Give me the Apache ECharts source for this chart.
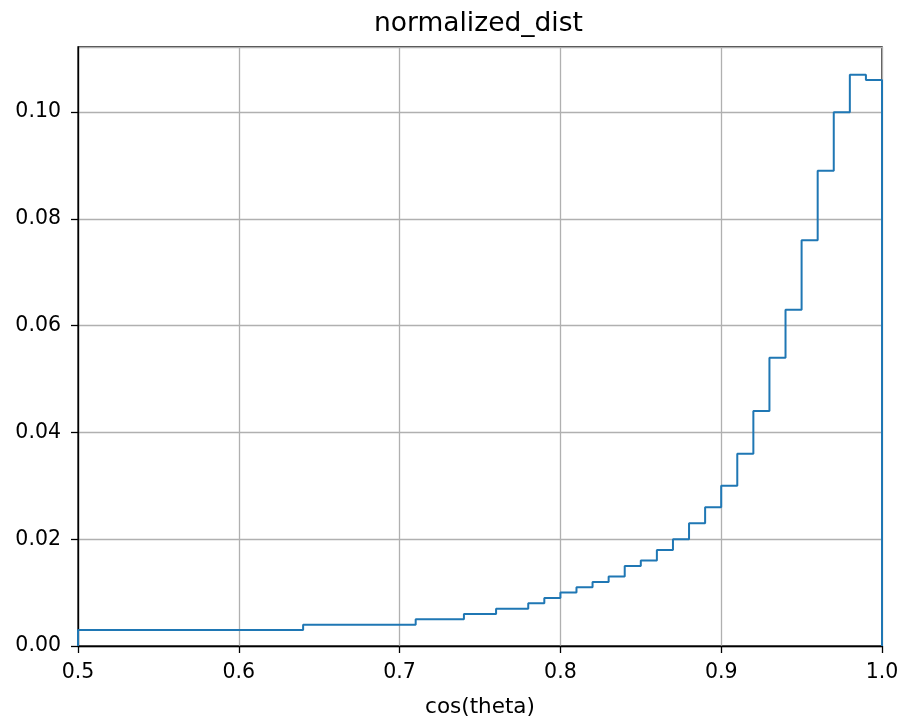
<!DOCTYPE html>
<html>
<head>
<meta charset="utf-8">
<script src="https://cdn.jsdelivr.net/npm/echarts@6/dist/echarts.min.js"></script>
<style>
  html, body { margin: 0; padding: 0; background: #ffffff; }
  #chart { width: 904px; height: 719px; }
</style>
</head>
<body>
<div id="chart"></div>
<script>
// Histogram bin edges for cos(theta) and the normalized weight per bin
const binEdges = [
  0.50, 0.51, 0.52, 0.53, 0.54, 0.55, 0.56, 0.57, 0.58, 0.59,
  0.60, 0.61, 0.62, 0.63, 0.64, 0.65, 0.66, 0.67, 0.68, 0.69,
  0.70, 0.71, 0.72, 0.73, 0.74, 0.75, 0.76, 0.77, 0.78, 0.79,
  0.80, 0.81, 0.82, 0.83, 0.84, 0.85, 0.86, 0.87, 0.88, 0.89,
  0.90, 0.91, 0.92, 0.93, 0.94, 0.95, 0.96, 0.97, 0.98, 0.99,
  1.00
];
const binValues = [
  0.003, 0.003, 0.003, 0.003, 0.003, 0.003, 0.003, 0.003, 0.003, 0.003,
  0.003, 0.003, 0.003, 0.003, 0.004, 0.004, 0.004, 0.004, 0.004, 0.004,
  0.004, 0.005, 0.005, 0.005, 0.006, 0.006, 0.007, 0.007, 0.008, 0.009,
  0.010, 0.011, 0.012, 0.013, 0.015, 0.016, 0.018, 0.020, 0.023, 0.026,
  0.030, 0.036, 0.044, 0.054, 0.063, 0.076, 0.089, 0.100, 0.107, 0.106
];
const xTicks = [0.5, 0.6, 0.7, 0.8, 0.9, 1.0];
const yTicks = [0.00, 0.02, 0.04, 0.06, 0.08, 0.10];

// Outline of a step histogram: rise at the first edge, drop at the last one
const stepPoints = [[binEdges[0], 0]];
for (let i = 0; i < binValues.length; i++) {
  stepPoints.push([binEdges[i], binValues[i]]);
}
const lastEdge = binEdges[binEdges.length - 1];
stepPoints.push([lastEdge, binValues[binValues.length - 1]]);
stepPoints.push([lastEdge, 0]);

const FONT = 'DejaVu Sans';
const chart = echarts.init(document.getElementById('chart'), null, { renderer: 'canvas' });

chart.setOption({
  animation: false,
  backgroundColor: '#ffffff',
  title: {
    text: 'normalized_dist',
    left: 374,
    top: 11,
    padding: 0,
    textStyle: { fontFamily: FONT, fontSize: 26.5, fontWeight: 'normal', color: '#000000' }
  },
  grid: {
    left: 78, right: 22, top: 47, bottom: 73,
    containLabel: false,
    outerBoundsMode: 'none',
    show: true, borderColor: '#000000', borderWidth: 1.3, backgroundColor: 'transparent'
  },
  xAxis: {
    type: 'value',
    min: xTicks[0],
    max: xTicks[xTicks.length - 1],
    interval: 0.1,
    name: 'cos(theta)',
    nameLocation: 'middle',
    nameGap: 50,
    nameTextStyle: { fontFamily: FONT, fontSize: 21.5, color: '#000000' },
    axisLine: { show: true, onZero: false, lineStyle: { color: '#000000', width: 1.3 } },
    axisTick: { show: true, inside: false, length: 7, lineStyle: { color: '#000000', width: 1.3 } },
    axisLabel: {
      margin: 16,
      fontFamily: FONT, fontSize: 20.5, color: '#000000',
      formatter: v => v.toFixed(1)
    },
    splitLine: { show: true, lineStyle: { color: '#b0b0b0', width: 1.3 } }
  },
  yAxis: {
    type: 'value',
    min: yTicks[0],
    max: 0.1122,
    interval: 0.02,
    axisLine: { show: true, onZero: false, lineStyle: { color: '#000000', width: 1.3 } },
    axisTick: { show: true, inside: false, length: 7, lineStyle: { color: '#000000', width: 1.3 } },
    axisLabel: {
      margin: 17,
      showMaxLabel: false,
      fontFamily: FONT, fontSize: 20.5, color: '#000000',
      formatter: v => v.toFixed(2)
    },
    splitLine: { show: true, lineStyle: { color: '#b0b0b0', width: 1.3 } }
  },
  series: [{
    type: 'line',
    step: 'end',
    data: stepPoints,
    showSymbol: false,
    symbol: 'none',
    clip: false,
    lineStyle: { color: '#1f77b4', width: 2 },
    z: 3
  }]
});
</script>
</body>
</html>
